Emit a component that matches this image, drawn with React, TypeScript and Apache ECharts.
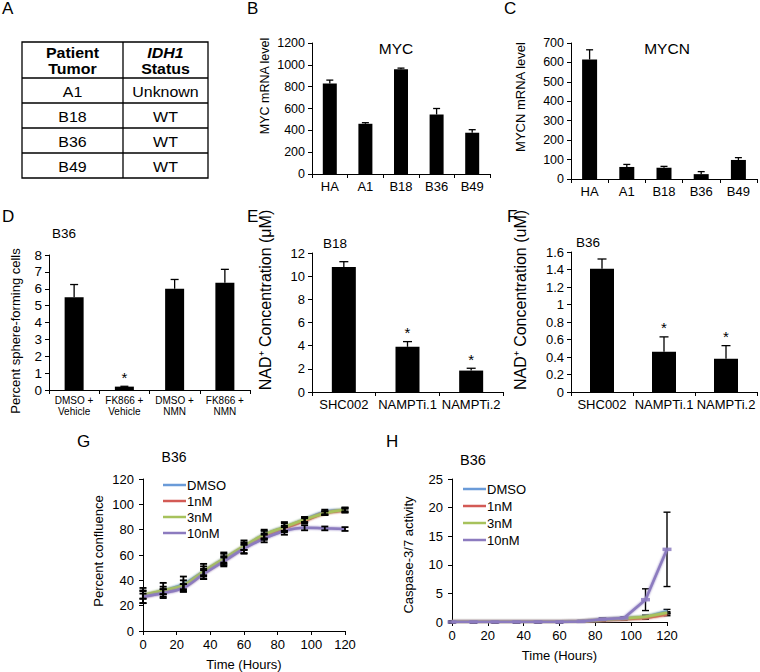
import React, { useEffect, useRef } from "react";
import * as echarts from "echarts";

const FONT = "'Liberation Sans', Arial, Helvetica, sans-serif";

// ---------- Panel A (table) ----------
const tumors = ["A1", "B18", "B36", "B49"];
const idh1Status = ["Unknown", "WT", "WT", "WT"];

// ---------- Panel B ----------
const mycCategories = ["HA", "A1", "B18", "B36", "B49"];
const mycValues = [830, 460, 960, 545, 378];
const mycErrors = [30, 10, 10, 55, 28];

// ---------- Panel C ----------
const mycnValues = [615, 62, 58, 25, 98];
const mycnErrors = [50, 13, 7, 13, 12];

// ---------- Panel D ----------
const sphereCategories = ["DMSO +\nVehicle", "FK866 +\nVehicle", "DMSO +\nNMN", "FK866 +\nNMN"];
const sphereValues = [5.5, 0.2, 6.0, 6.35];
const sphereErrors = [0.75, 0.02, 0.55, 0.8];
const sphereSignificant = [0, 1, 0, 0];

// ---------- Panels E, F ----------
const nadCategories = ["SHC002", "NAMPTi.1", "NAMPTi.2"];
const nadB18Values = [10.8, 3.9, 1.85];
const nadB18Errors = [0.45, 0.45, 0.2];
const nadB18Significant = [0, 1, 1];
const nadB36Values = [1.41, 0.46, 0.38];
const nadB36Errors = [0.11, 0.17, 0.15];
const nadB36Significant = [0, 1, 1];

// ---------- Panels G, H ----------
const hours = [0, 12, 24, 36, 48, 60, 72, 84, 96, 108, 120];
const doseNames = ["DMSO", "1nM", "3nM", "10nM"];
const doseColors = ["#6a9bd8", "#d35a55", "#a7c25c", "#8c7bbf"];

const confDMSO = [28, 32, 37, 47, 57, 66.5, 76, 82, 88, 94, 95.5];
const conf1nM = [27.5, 31, 35, 46, 56, 66, 75, 81, 87, 93, 95];
const conf3nM = [28.5, 32, 36, 47, 57, 67, 76, 82, 88, 93, 96];
const conf10nM = [27, 30, 34, 45, 55, 65, 73, 79, 81.5, 81, 80.5];
const confErrDMSO = [6, 6, 6, 6, 5, 5, 4, 4, 2, 1.8, 1.8];
const confErr1nM = [2, 2, 2, 2, 2, 2, 2, 2, 2, 1.5, 1.5];
const confErr3nM = [3, 3, 4, 4, 4, 3, 3, 3, 2, 1.5, 1.5];
const confErr10nM = [5, 3, 3, 4, 4, 4, 3, 3, 2, 1.5, 1.5];

const caspDMSO = [0, 0, 0, 0, 0, 0, 0.1, 0.4, 0.6, 0.9, 1.9];
const casp1nM = [0, 0, 0, 0, 0, 0, 0.1, 0.3, 0.5, 0.7, 1.3];
const casp3nM = [0, 0, 0, 0, 0, 0, 0.1, 0.4, 0.6, 0.9, 1.6];
const casp10nM = [0, 0, 0, 0, 0, 0, 0.1, 0.5, 0.7, 3.9, 12.7];
const caspErrDMSO = [0.15, 0.15, 0.15, 0.15, 0.15, 0.15, 0.15, 0.2, 0.2, 0.3, 0.3];
const caspErr1nM = [0.1, 0.1, 0.1, 0.1, 0.1, 0.1, 0.1, 0.15, 0.15, 0.2, 0.2];
const caspErr3nM = [0.1, 0.1, 0.1, 0.1, 0.1, 0.1, 0.1, 0.15, 0.15, 0.2, 0.2];
const caspErr10nM = [0.15, 0.15, 0.15, 0.15, 0.15, 0.15, 0.15, 0.2, 0.2, 1.9, 6.5];

const confSeries = [confDMSO, conf1nM, conf3nM, conf10nM];
const confErrSeries = [confErrDMSO, confErr1nM, confErr3nM, confErr10nM];
const caspSeries = [caspDMSO, casp1nM, casp3nM, casp10nM];
const caspErrSeries = [caspErrDMSO, caspErr1nM, caspErr3nM, caspErr10nM];

// ---------- helpers ----------
const axisLine = { show: true, onZero: false, lineStyle: { color: "#000", width: 1 } };
const axisTick = { show: true, length: 4, lineStyle: { color: "#000", width: 1 } };
const plain = (v: number) => String(v);

function catX(grid: number, data: string[], fontSize: number, extraLabel: any = {}) {
  return {
    type: "category",
    gridIndex: grid,
    data,
    axisLine,
    axisTick: { ...axisTick, alignWithLabel: false },
    axisLabel: { color: "#000", fontSize, fontFamily: FONT, margin: 6, interval: 0, ...extraLabel },
    splitLine: { show: false },
  };
}

function valAxis(grid: number, max: number, interval: number, fontSize: number, margin = 7) {
  return {
    type: "value",
    gridIndex: grid,
    min: 0,
    max,
    interval,
    axisLine,
    axisTick,
    axisLabel: { color: "#000", fontSize, fontFamily: FONT, margin, formatter: plain },
    splitLine: { show: false },
  };
}

const barErrorRender = (cap: number) => (params: any, api: any) => {
  const i = api.value(0);
  const v = api.value(1);
  const e = api.value(2);
  const s = api.value(3);
  const p0 = api.coord([i, v]);
  const p1 = api.coord([i, v + e]);
  const st = { stroke: "#000", lineWidth: 1.3 };
  const children: any[] = [
    { type: "line", shape: { x1: p0[0], y1: p0[1], x2: p1[0], y2: p1[1] }, style: st },
    { type: "line", shape: { x1: p1[0] - cap, y1: p1[1], x2: p1[0] + cap, y2: p1[1] }, style: st },
  ];
  if (s) {
    children.push({
      type: "text",
      x: p1[0],
      y: p1[1] - 9,
      style: { text: "*", fill: "#000", font: `15px ${FONT}`, align: "center", verticalAlign: "middle" },
    });
  }
  return { type: "group", children };
};

const xyErrorRender = (cap: number, lw: number) => (params: any, api: any) => {
  const x = api.value(0);
  const y = api.value(1);
  const e = api.value(2);
  const lo = api.coord([x, y - e]);
  const hi = api.coord([x, y + e]);
  const st = { stroke: "#000", lineWidth: lw };
  return {
    type: "group",
    children: [
      { type: "line", shape: { x1: lo[0], y1: lo[1], x2: hi[0], y2: hi[1] }, style: st },
      { type: "line", shape: { x1: lo[0] - cap, y1: lo[1], x2: lo[0] + cap, y2: lo[1] }, style: st },
      { type: "line", shape: { x1: hi[0] - cap, y1: hi[1], x2: hi[0] + cap, y2: hi[1] }, style: st },
    ],
  };
};

function barSeries(grid: number, values: number[], errors: number[], sig: number[] | null, barWidth: number, cap: number) {
  return [
    {
      type: "bar",
      xAxisIndex: grid,
      yAxisIndex: grid,
      data: values,
      barWidth,
      itemStyle: { color: "#000" },
      z: 2,
    },
    {
      type: "custom",
      xAxisIndex: grid,
      yAxisIndex: grid,
      renderItem: barErrorRender(cap),
      encode: { x: 0, y: 1 },
      data: values.map((v, i) => [i, v, errors[i], sig ? sig[i] : 0]),
      z: 3,
      silent: true,
    },
  ];
}

function text(x: number, y: number, t: string, size: number, opts: any = {}) {
  return {
    type: "text",
    x,
    y,
    rotation: opts.rotation || 0,
    scaleX: opts.scaleX || 1,
    style: {
      text: t,
      fill: "#000",
      font: `${opts.italic ? "italic " : ""}${opts.weight || "normal"} ${size}px ${FONT}`,
      align: opts.align || "center",
      verticalAlign: opts.va || "middle",
    },
  };
}

const vtext = (x: number, y: number, t: string, size: number) => text(x, y, t, size, { rotation: Math.PI / 2 });

function buildTable() {
  const L = 22, R = 208, M = 123, T = 42, H = 78;
  const rowLines = [103, 128, 153];
  const B = 178;
  const st = { stroke: "#000", lineWidth: 1.3, fill: "none" };
  const els: any[] = [
    { type: "rect", shape: { x: L, y: T, width: R - L, height: B - T }, style: st },
    { type: "line", shape: { x1: M, y1: T, x2: M, y2: B }, style: st },
    { type: "line", shape: { x1: L, y1: H, x2: R, y2: H }, style: st },
  ];
  rowLines.forEach((y) => els.push({ type: "line", shape: { x1: L, y1: y, x2: R, y2: y }, style: st }));
  const c1 = (L + M) / 2, c2 = (M + R) / 2;
  const sx = 1.14;
  els.push(text(c1, 53, "Patient", 14, { weight: "bold", scaleX: sx }));
  els.push(text(c1, 69, "Tumor", 14, { weight: "bold", scaleX: sx }));
  els.push(text(c2, 53, "IDH1", 14, { weight: "bold", italic: true, scaleX: sx }));
  els.push(text(c2, 69, "Status", 14, { weight: "bold", scaleX: sx }));
  const rowTops = [H, ...rowLines];
  const rowBottoms = [...rowLines, B];
  tumors.forEach((t, i) => {
    const cy = (rowTops[i] + rowBottoms[i]) / 2 + 1;
    els.push(text(c1, cy, t, 14, { scaleX: sx }));
    els.push(text(c2, cy, idh1Status[i], 14, { scaleX: sx }));
  });
  return els;
}

export default function App() {
  const ref = useRef<HTMLDivElement>(null);

  useEffect(() => {
    document.body.style.margin = "0";
    if (!ref.current) return;
    const chart = echarts.init(ref.current, undefined, { renderer: "svg" });

    const grids = [
      { left: 312, top: 43, width: 178, height: 131 }, // B
      { left: 571, top: 43, width: 186, height: 136 }, // C
      { left: 49, top: 255, width: 201, height: 135 }, // D
      { left: 312, top: 253, width: 191, height: 139 }, // E
      { left: 571, top: 252, width: 186, height: 140 }, // F
      { left: 143, top: 479, width: 202, height: 153 }, // G
      { left: 452, top: 479, width: 215, height: 143 }, // H
    ];

    const timeX = (grid: number, margin: number, gap: number) => ({
      type: "value",
      gridIndex: grid,
      min: 0,
      max: 120,
      interval: 20,
      axisLine,
      axisTick,
      axisLabel: { color: "#000", fontSize: 13, fontFamily: FONT, margin },
      splitLine: { show: false },
      name: "Time (Hours)",
      nameLocation: "middle",
      nameGap: gap,
      nameTextStyle: { color: "#000", fontSize: 13, fontFamily: FONT },
    });

    const xAxis = [
      catX(0, mycCategories, 13),
      catX(1, mycCategories, 13),
      catX(2, sphereCategories, 10, { lineHeight: 11, margin: 5 }),
      catX(3, nadCategories, 13),
      catX(4, nadCategories, 13),
      timeX(5, 7, 27),
      timeX(6, 7, 27),
    ];

    const yAxis = [
      valAxis(0, 1200, 200, 12.5),
      valAxis(1, 700, 100, 12.5),
      valAxis(2, 8, 1, 13.5),
      valAxis(3, 12, 2, 13),
      valAxis(4, 1.6, 0.2, 13),
      valAxis(5, 120, 20, 13, 9),
      valAxis(6, 25, 5, 13, 9),
    ];

    const series: any[] = [
      ...barSeries(0, mycValues, mycErrors, null, 14, 3.5),
      ...barSeries(1, mycnValues, mycnErrors, null, 15, 3.5),
      ...barSeries(2, sphereValues, sphereErrors, sphereSignificant, 19, 4),
      ...barSeries(3, nadB18Values, nadB18Errors, nadB18Significant, 24, 4.5),
      ...barSeries(4, nadB36Values, nadB36Errors, nadB36Significant, 24, 4.5),
    ];

    // Panel G: smooth lines, error bars on top
    doseNames.forEach((name, k) => {
      series.push({
        type: "line",
        name,
        xAxisIndex: 5,
        yAxisIndex: 5,
        data: hours.map((h, i) => [h, confSeries[k][i]]),
        smooth: 0.4,
        symbol: "none",
        lineStyle: { color: doseColors[k], width: 2.5, shadowBlur: 2, shadowColor: doseColors[k] },
        itemStyle: { color: doseColors[k] },
        z: 2,
      });
    });
    doseNames.forEach((name, k) => {
      series.push({
        type: "custom",
        name: name + " error G",
        xAxisIndex: 5,
        yAxisIndex: 5,
        renderItem: xyErrorRender(3.5, 1.8),
        encode: { x: 0, y: 1 },
        data: hours.map((h, i) => [h, confSeries[k][i], confErrSeries[k][i]]),
        z: 4,
        silent: true,
      });
    });

    // Panel H: straight lines, error bars below
    doseNames.forEach((name, k) => {
      series.push({
        type: "custom",
        name: name + " error H",
        xAxisIndex: 6,
        yAxisIndex: 6,
        renderItem: xyErrorRender(3.5, 1.4),
        encode: { x: 0, y: 1 },
        data: hours.map((h, i) => [h, caspSeries[k][i], caspErrSeries[k][i]]),
        z: 1,
        silent: true,
      });
    });
    doseNames.forEach((name, k) => {
      series.push({
        type: "line",
        name,
        xAxisIndex: 6,
        yAxisIndex: 6,
        data: hours.map((h, i) => [h, caspSeries[k][i]]),
        symbol: "none",
        lineStyle: { color: doseColors[k], width: 2.5, shadowBlur: 2, shadowColor: doseColors[k] },
        itemStyle: { color: doseColors[k] },
        z: 2,
      });
    });
    series.push({
      type: "scatter",
      name: "10nM markers",
      xAxisIndex: 6,
      yAxisIndex: 6,
      data: hours.map((h, i) => [h, casp10nM[i]]),
      symbol: "rect",
      symbolSize: [9, 3.5],
      itemStyle: { color: doseColors[3], opacity: 0.85 },
      z: 3,
      silent: true,
    });

    const legendBase = {
      data: doseNames.map((n) => ({ name: n, icon: "rect" })),
      orient: "vertical",
      itemWidth: 23,
      itemHeight: 2.5,
      padding: 0,
      selectedMode: false,
      textStyle: { color: "#000", fontSize: 13, lineHeight: 14, fontFamily: FONT, padding: [0, 0, 0, -4] },
    };

    const graphic: any[] = [
      ...buildTable(),
      text(2, 0, "A", 17, { align: "left", va: "top" }),
      text(247, 0, "B", 17, { align: "left", va: "top" }),
      text(504, 0, "C", 17, { align: "left", va: "top" }),
      text(2, 208, "D", 17, { align: "left", va: "top" }),
      text(247, 208, "E", 17, { align: "left", va: "top" }),
      text(507, 208, "F", 17, { align: "left", va: "top" }),
      text(77, 433, "G", 17, { align: "left", va: "top" }),
      text(386, 433, "H", 17, { align: "left", va: "top" }),
      text(396, 48, "MYC", 15.5),
      text(667, 48, "MYCN", 15.5),
      text(64, 233, "B36", 13.5),
      text(335, 243, "B18", 13.5),
      text(588, 242, "B36", 13.5),
      text(174, 457, "B36", 14),
      text(473, 460, "B36", 14.5),
      vtext(265, 86, "MYC mRNA level", 12.5),
      vtext(520, 97, "MYCN mRNA level", 13),
      vtext(15, 331, "Percent sphere-forming cells", 13),
      vtext(265, 300, "NAD\u207A Concentration (\u03BCM)", 16),
      vtext(520, 300, "NAD\u207A Concentration (uM)", 16),
      vtext(98, 551, "Percent confluence", 13),
      vtext(408, 555, "Caspase-3/7 activity", 13),
    ];

    chart.setOption({
      animation: false,
      backgroundColor: "#fff",
      textStyle: { fontFamily: FONT },
      grid: grids,
      xAxis,
      yAxis,
      series,
      legend: [
        { ...legendBase, left: 163, top: 478, itemGap: 2 },
        { ...legendBase, left: 463, top: 482, itemGap: 3 },
      ],
      graphic,
    });

    return () => chart.dispose();
  }, []);

  return (
    <div
      ref={ref}
      style={{ position: "absolute", left: 0, top: 0, width: 760, height: 672, background: "#fff" }}
    />
  );
}
